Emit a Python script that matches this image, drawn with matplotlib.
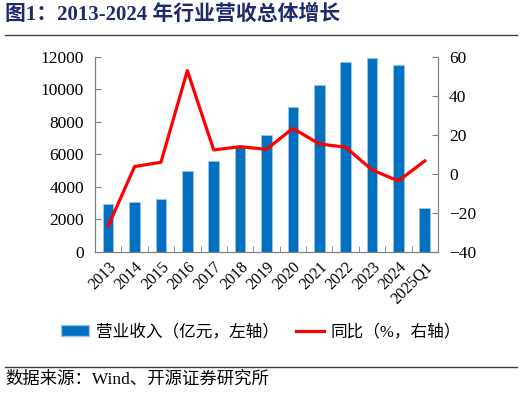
import matplotlib.pyplot as plt
from matplotlib.lines import Line2D
from matplotlib.patches import Patch
import numpy as np

plt.rcParams['font.family'] = ['Liberation Serif', 'Noto Sans CJK SC', 'DejaVu Sans']

years = ['2013', '2014', '2015', '2016', '2017', '2018', '2019', '2020',
         '2021', '2022', '2023', '2024', '2025Q1']
revenue = [2950, 3080, 3260, 5000, 5620, 6540, 7200, 8900,
           10300, 11690, 11940, 11490, 2690]
yoy = [-26.7, 3.8, 6.0, 53.0, 12.3, 14.0, 12.6, 23.4,
       15.4, 13.7, 2.1, -3.6, 6.7]

fig = plt.figure(figsize=(5.22, 3.93), dpi=100)
ax = fig.add_axes([0.182, 0.359, 0.657, 0.496])
x = np.arange(len(years))
ax.bar(x, revenue, width=0.4, color='#0070C0', edgecolor='#9DC3E6', linewidth=0.6, zorder=1)
ax.set_ylim(0, 12000)
ax.set_yticks(np.arange(0, 12001, 2000))
ax.set_xlim(-0.5, len(years) - 0.5)
ax.set_xticks(x)
ax.set_xticklabels(years, rotation=45, ha='right', va='top', rotation_mode='anchor')
ax.set_xticks(np.arange(-0.5, len(years), 1), minor=True)
ax.tick_params(axis='x', which='major', length=0, pad=5, labelsize=11.5)
ax.tick_params(axis='x', which='minor', direction='in', length=4, color='#808080')
ax.tick_params(axis='y', direction='in', length=4, color='#808080', labelsize=12.5, pad=8)

ax2 = ax.twinx()
ax2.plot(x, yoy, color='#FF0000', linewidth=2.3, zorder=3)
ax2.set_ylim(-40, 60)
ax2.set_yticks(np.arange(-40, 61, 20))
ax2.tick_params(axis='y', direction='in', length=4, color='#808080', labelsize=12.5, pad=8)

for a in (ax, ax2):
    a.spines['top'].set_visible(False)
    for s in ('left', 'right', 'bottom'):
        a.spines[s].set_color('#808080')

handles = [Patch(facecolor='#0070C0', edgecolor='#9DC3E6'),
           Line2D([0], [0], color='#FF0000', linewidth=2.3)]
fig.legend(handles, ['营业收入（亿元，左轴）', '同比（%，右轴）'],
           loc='center', bbox_to_anchor=(0.5, 0.155), ncol=2, frameon=False,
           fontsize=12, handlelength=1.7, handleheight=0.6, columnspacing=1.0,
           handletextpad=0.4)

fig.text(0.01, 0.962, '图1：2013-2024 年行业营收总体增长', fontsize=15, fontweight='bold',
         color='#1F2A6E', ha='left', va='center')
fig.add_artist(Line2D([0.01, 0.99], [0.911, 0.911], color='#404040', linewidth=1))
fig.add_artist(Line2D([0.01, 0.99], [0.066, 0.066], color='#404040', linewidth=1))
fig.text(0.01, 0.034, '数据来源：Wind、开源证券研究所', fontsize=12.5, ha='left', va='center')

fig.savefig('out.png', dpi=100)
